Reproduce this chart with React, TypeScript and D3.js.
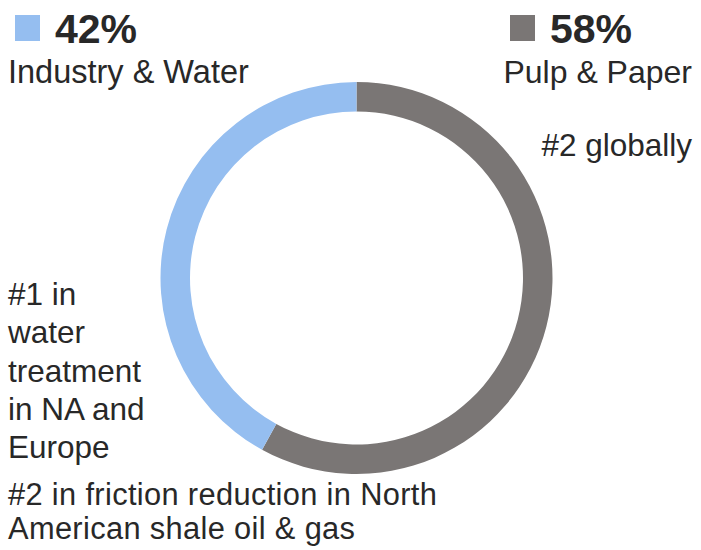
import React from "react";
import * as d3 from "d3";

const segments = ["Pulp & Paper", "Industry & Water"];
const shares = [58, 42];
const colors = ["#7A7675", "#95BEF0"];
const leftNotes = ["#1 in", "water", "treatment", "in NA and", "Europe"];
const bottomNotes = ["#2 in friction reduction in North", "American shale oil & gas"];
const rightNote = "#2 globally";

export default function App() {
  const W = 701, H = 550;
  const cx = 356.5, cy = 278, rOuter = 196, rInner = 166.5;
  const pie = d3.pie<number>().sort(null).value((d) => d).startAngle(0).endAngle(2 * Math.PI);
  const arcs = pie(shares);
  const arc = d3.arc<d3.PieArcDatum<number>>().innerRadius(rInner).outerRadius(rOuter);
  const font = "Liberation Sans, Arial, sans-serif";
  const textColor = "#282828";
  return (
    <svg width={W} height={H} style={{ position: "absolute", left: 0, top: 0 }} fontFamily={font}>
      <rect width={W} height={H} fill="#fff" />
      <g transform={`translate(${cx},${cy})`}>
        {arcs.map((a, i) => (
          <path key={i} d={arc(a) || ""} fill={colors[i]} />
        ))}
      </g>
      {/* Legend left: Industry & Water */}
      <rect x={15} y={15} width={25} height={26} fill={colors[1]} />
      <text x={55} y={43} fontSize={41} fontWeight="bold" fill={textColor}>{shares[1]}%</text>
      <text x={8} y={83} fontSize={32.5} fill={textColor}>{segments[1]}</text>
      {/* Legend right: Pulp & Paper */}
      <rect x={510} y={15} width={25} height={26} fill={colors[0]} />
      <text x={550} y={43} fontSize={41} fontWeight="bold" fill={textColor}>{shares[0]}%</text>
      <text x={692} y={83} fontSize={32} fill={textColor} textAnchor="end">{segments[0]}</text>
      <text x={692} y={156} fontSize={31.5} fill={textColor} textAnchor="end">{rightNote}</text>
      {leftNotes.map((t, i) => (
        <text key={i} x={8} y={305 + i * 38.3} fontSize={31.5} fill={textColor}>{t}</text>
      ))}
      {bottomNotes.map((t, i) => (
        <text key={i} x={8} y={505 + i * 34} fontSize={30.8} letterSpacing={0.35} fill={textColor}>{t}</text>
      ))}
    </svg>
  );
}
